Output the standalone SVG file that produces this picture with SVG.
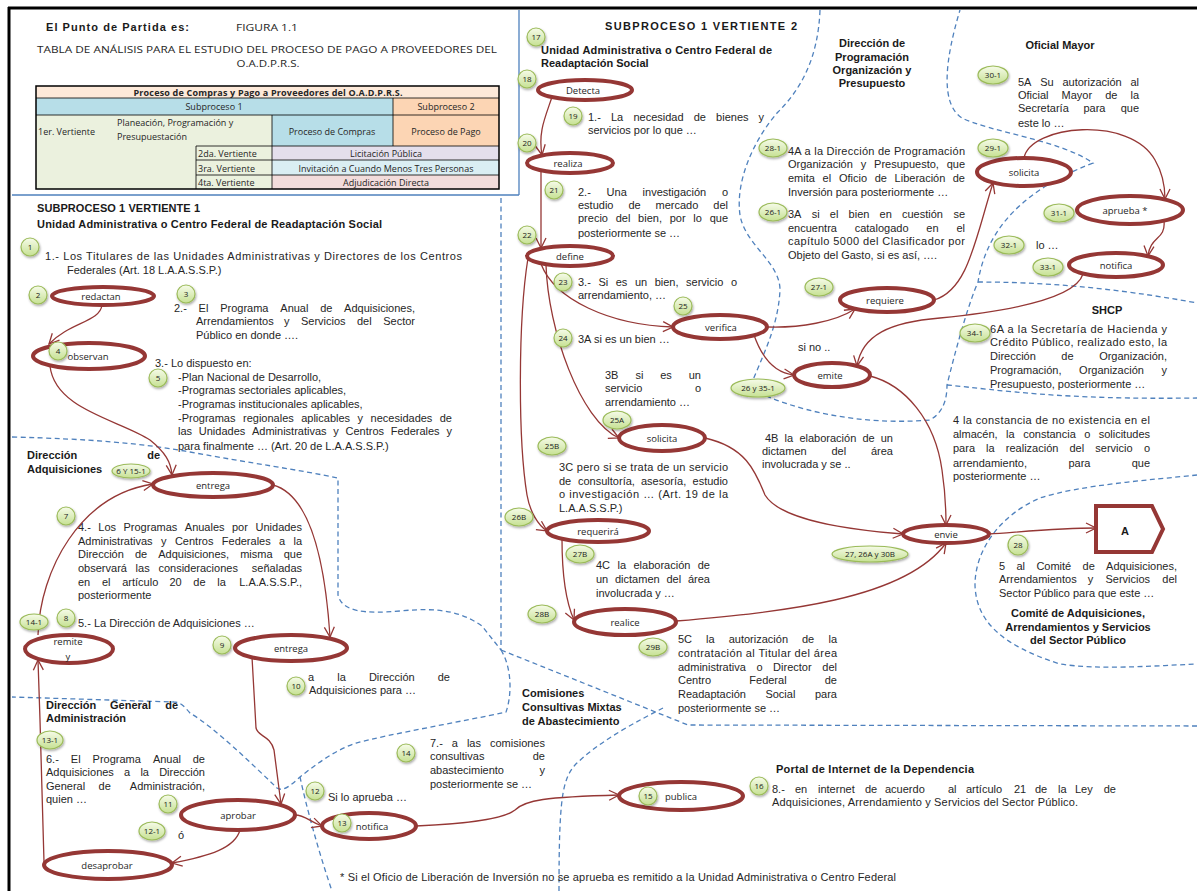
<svg xmlns="http://www.w3.org/2000/svg" width="1197" height="891" viewBox="0 0 1197 891">
<defs>
<style>
.t{font-family:"Liberation Sans",Arial,sans-serif;font-size:11px;fill:#262626}
.h{font-family:"Liberation Sans",Arial,sans-serif;font-size:11px;font-weight:bold;fill:#1a1a1a}
.c{font-family:"Open Sans",sans-serif;font-size:9.5px;fill:#262626;text-anchor:middle}
.tb{font-family:"Open Sans",sans-serif;font-size:9px;fill:#262626}
.bd{font-family:"Open Sans",sans-serif;font-size:8px;fill:#1a1a1a;text-anchor:middle}
.node{fill:#fff;stroke:#953735;stroke-width:4}
.badge{fill:url(#bg);stroke:#9bbb59;stroke-width:1.2;filter:url(#sh)}
.edge{fill:none;stroke:#953735;stroke-width:1.3;marker-end:url(#arr)}
.dash{fill:none;stroke:#4f81bd;stroke-width:1.3;stroke-dasharray:5 3.5}
.grid{stroke:#000;stroke-width:.8;fill:none}
.e{text-anchor:end}
.m{text-anchor:middle}
</style>
<linearGradient id="bg" x1="0" y1="0" x2="0" y2="1">
<stop offset="0" stop-color="#f6fbe9"/>
<stop offset="1" stop-color="#c6e193"/>
</linearGradient>
<filter id="sh" x="-30%" y="-30%" width="160%" height="170%">
<feDropShadow dx="0.8" dy="1.5" stdDeviation="0.9" flood-color="#000" flood-opacity="0.35"/>
</filter>
<marker id="arr" viewBox="0 0 12 12" refX="11" refY="6" markerWidth="12" markerHeight="12" markerUnits="userSpaceOnUse" orient="auto">
<path d="M1,1 L11,6 L1,11" fill="none" stroke="#953735" stroke-width="1.3"/>
</marker>
</defs>

<rect x="0" y="0" width="1197" height="891" fill="#fff"/>

<!-- outer frame -->
<g id="frame">
<path d="M8,8 H1197" stroke="#000" stroke-width="3" fill="none"/>
<path d="M9,7 V891" stroke="#000" stroke-width="3" fill="none"/>
<path d="M12,195 H519 M519,10 V195" stroke="#4f81bd" stroke-width="1.3" fill="none"/>
</g>

<!-- area boundaries -->
<g id="boundaries">
<path class="dash" d="M12,437 C90,439 140,443 190,452 C250,463 300,470 338,478 L338,595 C342,612 365,614 400,611 C440,607 462,612 482,626 L501,650"/>
<path class="dash" d="M501,198 L501,650"/>
<path class="dash" d="M501,650 L688,725 L1197,726"/>
<path class="dash" d="M501,650 C512,668 512,695 506,712 C460,722 390,734 356,743 C335,750 315,765 300,777 C290,786 283,792 277,788 C250,762 215,728 190,713 C184,706 180,702 174,702 L12,697"/>
<path class="dash" d="M300,777 C306,805 318,850 332,891"/>
<path class="dash" d="M663,708 C640,720 600,740 575,765 C562,780 559,800 559,891"/>
<path class="dash" d="M820,10 C818,60 800,90 778,112 C755,138 735,180 740,215 C745,245 780,262 780,290 C778,330 760,360 750,388 C790,410 860,426 930,420 C944,412 947,398 947,385 C958,340 970,300 978,282 C985,240 1010,195 1093,163 C1060,140 990,132 962,118 C940,104 945,60 960,10"/>
<path class="dash" d="M947,385 C1000,390 1060,400 1197,398"/>
<path class="dash" d="M978,282 C1040,282 1110,287 1197,303"/>
<path class="dash" d="M1197,475 C1150,480 1080,485 1040,498 C1000,515 975,550 975,585 C976,620 1000,645 1060,664 C1100,670 1150,666 1197,664"/>
</g>

<!-- heading and analysis table -->
<g id="heading">
<text class="h" x="46" y="31" font-size="12.5" textLength="143">El Punto de Partida es:</text>
<text class="tb" x="236" y="31" font-size="11.5" textLength="62" lengthAdjust="spacingAndGlyphs">FIGURA 1.1</text>
<text class="tb" x="37" y="53" font-size="11.5" textLength="460" lengthAdjust="spacingAndGlyphs">TABLA DE ANÁLISIS PARA EL ESTUDIO DEL PROCESO DE PAGO A PROVEEDORES DEL</text>
<text class="tb m" x="268" y="67" font-size="11.5" textLength="63" lengthAdjust="spacingAndGlyphs">O.A.D.P.R.S.</text>
</g>

<g id="table">
<rect x="36" y="86" width="463" height="12" fill="#fde9d9"/>
<rect x="36" y="98" width="357" height="17" fill="#b7dee8"/>
<rect x="393" y="98" width="106" height="17" fill="#fcd5b4"/>
<rect x="36" y="115" width="236" height="74" fill="#ebf1de"/>
<rect x="272" y="115" width="121" height="31" fill="#b7dee8"/>
<rect x="393" y="115" width="106" height="31" fill="#fcd5b4"/>
<rect x="272" y="146" width="227" height="14" fill="#e4dfec"/>
<rect x="272" y="160" width="227" height="15" fill="#daeef3"/>
<rect x="272" y="175" width="227" height="14" fill="#f2dcdb"/>
<path class="grid" d="M36,98 H499 M36,115 H499 M196,146 H499 M196,160 H499 M196,175 H499 M393,98 V146 M272,115 V189 M196,146 V189"/>
<rect x="36" y="86" width="463" height="103" fill="none" stroke="#000" stroke-width="1.5"/>
<text class="tb m" x="268" y="95.5" font-weight="bold" textLength="269">Proceso de Compras y Pago a Proveedores del O.A.D.P.R.S.</text>
<text class="tb m" x="214" y="110">Subproceso 1</text>
<text class="tb m" x="446" y="110">Subproceso 2</text>
<text class="tb" x="38" y="134.5">1er. Vertiente</text>
<text class="tb" x="117" y="125.5">Planeación, Programación y</text>
<text class="tb" x="117" y="140">Presupuestación</text>
<text class="tb m" x="332" y="134.5">Proceso de Compras</text>
<text class="tb m" x="446" y="134.5">Proceso de Pago</text>
<text class="tb" x="198" y="157">2da. Vertiente</text>
<text class="tb m" x="386" y="157">Licitación Pública</text>
<text class="tb" x="198" y="171.5">3ra. Vertiente</text>
<text class="tb m" x="386" y="171.5">Invitación a Cuando Menos Tres Personas</text>
<text class="tb" x="198" y="186">4ta. Vertiente</text>
<text class="tb m" x="386" y="186">Adjudicación Directa</text>
</g>

<!-- area titles -->
<g id="titles">
<text class="h" x="37" y="212" textLength="163">SUBPROCESO 1 VERTIENTE 1</text>
<text class="h" x="37" y="228" textLength="345">Unidad Administrativa o Centro Federal de Readaptación Social</text>
<text class="h" y="459"><tspan x="27">Dirección</tspan><tspan class="e" x="160">de</tspan></text>
<text class="h" x="27" y="473">Adquisiciones</text>
<text class="h" y="709"><tspan x="46">Dirección</tspan><tspan x="110">General</tspan><tspan class="e" x="178">de</tspan></text>
<text class="h" x="46" y="722">Administración</text>
<text class="h" x="522" y="697">Comisiones</text>
<text class="h" x="522" y="711">Consultivas Mixtas</text>
<text class="h" x="522" y="725">de Abastecimiento</text>
<text class="h" x="776" y="773" textLength="198">Portal de Internet de la Dependencia</text>
<text class="h" x="605" y="30" font-size="13" textLength="192">SUBPROCESO 1 VERTIENTE 2</text>
<text class="h" x="541" y="54" textLength="231">Unidad Administrativa o Centro Federal de</text>
<text class="h" x="541" y="67">Readaptación Social</text>
<text class="h m" x="872" y="47" font-size="11.5">Dirección de</text>
<text class="h m" x="872" y="61" font-size="11.5">Programación</text>
<text class="h m" x="872" y="74" font-size="11.5">Organización y</text>
<text class="h m" x="872" y="87" font-size="11.5">Presupuesto</text>
<text class="h m" x="1060" y="49">Oficial Mayor</text>
<text class="h m" x="1107" y="314">SHCP</text>
<text class="h m" x="1078" y="617">Comité de Adquisiciones,</text>
<text class="h m" x="1078" y="631">Arrendamientos y Servicios</text>
<text class="h m" x="1078" y="644">del Sector Público</text>
</g>

<!-- step descriptions -->
<g id="notes">
<text class="t" x="45" y="260" textLength="417">1.- Los Titulares de las Unidades Administrativas y Directores de los Centros</text>
<text class="t" x="67" y="274">Federales (Art. 18 L.A.A.S.S.P.)</text>

<text class="t" y="312"><tspan x="174">2.-</tspan><tspan x="198.6">El</tspan><tspan x="220.2">Programa</tspan><tspan x="280.3">Anual</tspan><tspan x="320.2">de</tspan><tspan class="e" x="415">Adquisiciones,</tspan></text>
<text class="t" y="325"><tspan x="196">Arrendamientos</tspan><tspan x="284">y</tspan><tspan x="301">Servicios</tspan><tspan x="357">del</tspan><tspan class="e" x="415">Sector</tspan></text>
<text class="t" x="196" y="339">Público  en donde ….</text>

<text class="t" x="155" y="367">3.- Lo dispuesto en:</text>
<text class="t" x="178" y="381">-Plan Nacional de Desarrollo,</text>
<text class="t" x="178" y="394">-Programas sectoriales aplicables,</text>
<text class="t" x="178" y="408">-Programas institucionales aplicables,</text>
<text class="t" y="422"><tspan x="178">-Programas</tspan><tspan x="243">regionales</tspan><tspan x="301.2">aplicables</tspan><tspan x="357.6">y</tspan><tspan x="370.6">necesidades</tspan><tspan class="e" x="452">de</tspan></text>
<text class="t" y="435"><tspan x="178">las</tspan><tspan x="198.8">Unidades</tspan><tspan x="252">Administrativas</tspan><tspan x="333.3">y</tspan><tspan x="345.5">Centros</tspan><tspan x="390.7">Federales</tspan><tspan class="e" x="452">y</tspan></text>
<text class="t" x="178" y="450">para finalmente … (Art. 20 de L.A.A.S.S.P.)</text>

<text class="t" y="531"><tspan x="78">4.-</tspan><tspan x="98.3">Los</tspan><tspan x="123.5">Programas</tspan><tspan x="184.8">Anuales</tspan><tspan x="232">por</tspan><tspan class="e" x="302">Unidades</tspan></text>
<text class="t" y="545"><tspan x="78">Administrativas</tspan><tspan x="161">y</tspan><tspan x="174.9">Centros</tspan><tspan x="221.8">Federales</tspan><tspan x="279.1">a</tspan><tspan class="e" x="302">la</tspan></text>
<text class="t" y="558"><tspan x="78">Dirección</tspan><tspan x="134.9">de</tspan><tspan x="158.2">Adquisiciones,</tspan><tspan x="240.2">misma</tspan><tspan class="e" x="302">que</tspan></text>
<text class="t" y="572"><tspan x="78">observará</tspan><tspan x="135.6">las</tspan><tspan x="158.4">consideraciones</tspan><tspan class="e" x="302">señaladas</tspan></text>
<text class="t" y="586"><tspan x="78">en</tspan><tspan x="101.9">el</tspan><tspan x="122.2">artículo</tspan><tspan x="169.4">20</tspan><tspan x="193.3">de</tspan><tspan x="217.2">la</tspan><tspan class="e" x="302">L.A.A.S.S.P.,</tspan></text>
<text class="t" x="78" y="599">posteriormente</text>
<text class="t" x="78" y="627">5.- La Dirección de Adquisiciones …</text>

<text class="t" y="681"><tspan x="308">a</tspan><tspan x="337.2">la</tspan><tspan x="368.9">Dirección</tspan><tspan class="e" x="450">de</tspan></text>
<text class="t" x="309" y="694">Adquisiciones para …</text>

<text class="t" y="763"><tspan x="46">6.-</tspan><tspan x="70.8">El</tspan><tspan x="92.6">Programa</tspan><tspan x="152.9">Anual</tspan><tspan class="e" x="205">de</tspan></text>
<text class="t" y="776"><tspan x="46">Adquisiciones</tspan><tspan x="124.1">a</tspan><tspan x="140.4">la</tspan><tspan class="e" x="205">Dirección</tspan></text>
<text class="t" y="790"><tspan x="46">General</tspan><tspan x="98.6">de</tspan><tspan class="e" x="205">Administración,</tspan></text>
<text class="t" x="46" y="803">quien …</text>

<text class="t" x="178" y="839" font-size="12">ó</text>
<text class="t" x="328" y="801">Si lo aprueba …</text>

<text class="t" y="747"><tspan x="430">7.-</tspan><tspan x="451.8">a</tspan><tspan x="466.9">las</tspan><tspan class="e" x="545">comisiones</tspan></text>
<text class="t" y="760"><tspan x="430">consultivas</tspan><tspan class="e" x="545">de</tspan></text>
<text class="t" y="774"><tspan x="430">abastecimiento</tspan><tspan class="e" x="545">y</tspan></text>
<text class="t" x="430" y="788">posteriormente se …</text>

<text class="t" y="793"><tspan x="772">8.-</tspan><tspan x="795">en</tspan><tspan x="818">internet</tspan><tspan x="865">de</tspan><tspan x="885">acuerdo</tspan><tspan x="948">al</tspan><tspan x="966">artículo</tspan><tspan x="1014">21</tspan><tspan x="1035">de</tspan><tspan x="1058">la</tspan><tspan x="1075">Ley</tspan><tspan class="e" x="1116">de</tspan></text>
<text class="t" x="772" y="806" textLength="306">Adquisiciones, Arrendamiento y Servicios del Sector Público.</text>

<text class="t" x="340" y="881" textLength="556">* Si el Oficio de Liberación de Inversión no se aprueba es remitido a la Unidad Administrativa o Centro Federal</text>

<text class="t" y="121"><tspan x="588">1.-</tspan><tspan x="611">La</tspan><tspan x="633.4">necesidad</tspan><tspan x="693.7">de</tspan><tspan x="716.1">bienes</tspan><tspan class="e" x="764">y</tspan></text>
<text class="t" x="588" y="134">servicios por lo que …</text>

<text class="t" y="196"><tspan x="578">2.-</tspan><tspan x="606.6">Una</tspan><tspan x="642.6">investigación</tspan><tspan class="e" x="728">o</tspan></text>
<text class="t" y="209"><tspan x="578">estudio</tspan><tspan x="628.4">de</tspan><tspan x="655.5">mercado</tspan><tspan class="e" x="728">del</tspan></text>
<text class="t" y="222"><tspan x="578">precio</tspan><tspan x="615.7">del</tspan><tspan x="638.1">bien,</tspan><tspan x="669.7">por</tspan><tspan x="693.3">lo</tspan><tspan class="e" x="728">que</tspan></text>
<text class="t" x="578" y="237">posteriormente se …</text>

<text class="t" y="286"><tspan x="578">3.-</tspan><tspan x="598.4">Si</tspan><tspan x="615.7">es</tspan><tspan x="634.9">un</tspan><tspan x="654.7">bien,</tspan><tspan x="686.1">servicio</tspan><tspan class="e" x="737">o</tspan></text>
<text class="t" x="578" y="299">arrendamiento, …</text>
<text class="t" x="578" y="343">3A si es un bien …</text>

<text class="t" y="379"><tspan x="605">3B</tspan><tspan x="635.4">si</tspan><tspan x="660.2">es</tspan><tspan class="e" x="701">un</tspan></text>
<text class="t" y="392"><tspan x="605">servicio</tspan><tspan class="e" x="701">o</tspan></text>
<text class="t" x="605" y="406">arrendamiento …</text>

<text class="t" x="559" y="471" textLength="169">3C pero si se trata de un servicio</text>
<text class="t" y="485"><tspan x="559">de</tspan><tspan x="578">consultoría,</tspan><tspan x="641">asesoría,</tspan><tspan class="e" x="728">estudio</tspan></text>
<text class="t" x="559" y="498" textLength="169">o investigación … (Art. 19 de la</text>
<text class="t" x="559" y="512">L.A.A.S.S.P.)</text>

<text class="t" y="569"><tspan x="596">4C</tspan><tspan x="617.5">la</tspan><tspan x="633.5">elaboración</tspan><tspan class="e" x="710">de</tspan></text>
<text class="t" y="583"><tspan x="596">un</tspan><tspan x="615">dictamen</tspan><tspan x="666.4">del</tspan><tspan class="e" x="710">área</tspan></text>
<text class="t" x="596" y="597">involucrada y …</text>

<text class="t" y="643"><tspan x="678">5C</tspan><tspan x="706.1">la</tspan><tspan x="728.7">autorización</tspan><tspan x="802">de</tspan><tspan class="e" x="837">la</tspan></text>
<text class="t" x="678" y="657" textLength="159">contratación al Titular del área</text>
<text class="t" y="671"><tspan x="678">administrativa</tspan><tspan x="756.4">o</tspan><tspan x="773.1">Director</tspan><tspan class="e" x="837">del</tspan></text>
<text class="t" y="684"><tspan x="678">Centro</tspan><tspan x="749.3">Federal</tspan><tspan class="e" x="837">de</tspan></text>
<text class="t" y="698"><tspan x="678">Readaptación</tspan><tspan x="765.4">Social</tspan><tspan class="e" x="837">para</tspan></text>
<text class="t" x="678" y="712">posteriormente se …</text>

<text class="t" y="442"><tspan x="765">4B</tspan><tspan x="784.6">la</tspan><tspan x="799.4">elaboración</tspan><tspan x="862.4">de</tspan><tspan class="e" x="893">un</tspan></text>
<text class="t" y="455"><tspan x="762">dictamen</tspan><tspan x="831.5">del</tspan><tspan class="e" x="893">área</tspan></text>
<text class="t" x="762" y="468">involucrada y se ..</text>

<text class="t" x="798" y="351">si  no ..</text>

<text class="t" x="788" y="155" textLength="177">4A a la Dirección de Programación</text>
<text class="t" y="168"><tspan x="788">Organización</tspan><tspan x="860.7">y</tspan><tspan x="874.1">Presupuesto,</tspan><tspan class="e" x="965">que</tspan></text>
<text class="t" y="182"><tspan x="788">emita</tspan><tspan x="822.6">el</tspan><tspan x="838.9">Oficio</tspan><tspan x="874.7">de</tspan><tspan x="894.6">Liberación</tspan><tspan class="e" x="965">de</tspan></text>
<text class="t" x="788" y="196">Inversión para posteriormente …</text>

<text class="t" y="218"><tspan x="788">3A</tspan><tspan x="811.7">si</tspan><tspan x="829.8">el</tspan><tspan x="848.6">bien</tspan><tspan x="879.6">en</tspan><tspan x="902">cuestión</tspan><tspan class="e" x="965">se</tspan></text>
<text class="t" y="232"><tspan x="788">encuentra</tspan><tspan x="854.7">catalogado</tspan><tspan x="926.3">en</tspan><tspan class="e" x="965">el</tspan></text>
<text class="t" x="788" y="245" textLength="177">capítulo 5000 del Clasificador por</text>
<text class="t" x="788" y="259">Objeto del Gasto, si es así, ….</text>

<text class="t" y="86"><tspan x="1018">5A</tspan><tspan x="1040.2">Su</tspan><tspan x="1062.4">autorización</tspan><tspan class="e" x="1139">al</tspan></text>
<text class="t" y="99"><tspan x="1018">Oficial</tspan><tspan x="1061.6">Mayor</tspan><tspan x="1105.2">de</tspan><tspan class="e" x="1139">la</tspan></text>
<text class="t" y="112"><tspan x="1018">Secretaría</tspan><tspan x="1083.4">para</tspan><tspan class="e" x="1139">que</tspan></text>
<text class="t" x="1018" y="127">este lo …</text>
<text class="t" x="1036" y="249">lo …</text>

<text class="t" x="990" y="333" textLength="177">6A a la Secretaría de Hacienda y</text>
<text class="t" x="990" y="346" textLength="177">Crédito Público, realizado esto, la</text>
<text class="t" y="360"><tspan x="990">Dirección</tspan><tspan x="1061.3">de</tspan><tspan class="e" x="1167">Organización,</tspan></text>
<text class="t" y="374"><tspan x="990">Programación,</tspan><tspan x="1079.1">Organización</tspan><tspan class="e" x="1167">y</tspan></text>
<text class="t" x="990" y="388">Presupuesto, posteriormente …</text>

<text class="t" x="953" y="424" textLength="197">4 la constancia de no existencia en el</text>
<text class="t" y="438"><tspan x="953">almacén,</tspan><tspan x="1006.1">la</tspan><tspan x="1023.2">constancia</tspan><tspan x="1084.2">o</tspan><tspan class="e" x="1150">solicitudes</tspan></text>
<text class="t" y="452"><tspan x="953">para</tspan><tspan x="986.1">la</tspan><tspan x="1005.8">realización</tspan><tspan x="1069.5">del</tspan><tspan x="1095.3">servicio</tspan><tspan class="e" x="1150">o</tspan></text>
<text class="t" y="467"><tspan x="953">arrendamiento,</tspan><tspan x="1068.4">para</tspan><tspan class="e" x="1150">que</tspan></text>
<text class="t" x="953" y="480">posteriormente …</text>

<text class="t" y="570"><tspan x="999">5</tspan><tspan x="1016.5">al</tspan><tspan x="1036.4">Comité</tspan><tspan x="1082.6">de</tspan><tspan class="e" x="1177">Adquisiciones,</tspan></text>
<text class="t" y="583"><tspan x="999">Arrendamientos</tspan><tspan x="1087.8">y</tspan><tspan x="1105.5">Servicios</tspan><tspan class="e" x="1177">del</tspan></text>
<text class="t" x="999" y="597">Sector Público para que este …</text>
</g>

<!-- process steps -->
<g id="n-redactan"><ellipse class="node" cx="103" cy="296" rx="51" ry="9"/><text class="c" x="101" y="300">redactan</text></g>
<g id="n-observan"><ellipse class="node" cx="89" cy="356" rx="56" ry="13"/><text class="c" x="88" y="360">observan</text></g>
<g id="n-entrega-1"><ellipse class="node" cx="213" cy="485" rx="60" ry="12"/><text class="c" x="213" y="489">entrega</text></g>
<g id="n-remite"><ellipse class="node" cx="69" cy="649" rx="44" ry="14"/><text class="c" x="68" y="645">remite</text><text class="c" x="68" y="660">y</text></g>
<g id="n-entrega-2"><ellipse class="node" cx="291" cy="648" rx="56" ry="13"/><text class="c" x="291" y="652">entrega</text></g>
<g id="n-aprobar"><ellipse class="node" cx="238" cy="815" rx="57" ry="15"/><text class="c" x="238" y="819">aprobar</text></g>
<g id="n-desaprobar"><ellipse class="node" cx="108" cy="865" rx="64" ry="14"/><text class="c" x="107" y="869">desaprobar</text></g>
<g id="n-notifica-1"><ellipse class="node" cx="369" cy="826" rx="47" ry="13"/><text class="c" x="372" y="830">notifica</text></g>
<g id="n-publica"><ellipse class="node" cx="681" cy="796" rx="62" ry="14"/><text class="c" x="681" y="800">publica</text></g>
<g id="n-detecta"><ellipse class="node" cx="585" cy="90" rx="47" ry="10"/><text class="c" x="583" y="94">Detecta</text></g>
<g id="n-realiza"><ellipse class="node" cx="570" cy="163" rx="43" ry="10"/><text class="c" x="568" y="167">realiza</text></g>
<g id="n-define"><ellipse class="node" cx="570" cy="256" rx="43" ry="10"/><text class="c" x="570" y="260">define</text></g>
<g id="n-verifica"><ellipse class="node" cx="720" cy="327" rx="47" ry="12"/><text class="c" x="721" y="331">verifica</text></g>
<g id="n-solicita-1"><ellipse class="node" cx="662" cy="438" rx="43" ry="13"/><text class="c" x="662" y="442">solicita</text></g>
<g id="n-requerira"><ellipse class="node" cx="598" cy="531" rx="51" ry="11"/><text class="c" x="598" y="535">requerirá</text></g>
<g id="n-realice"><ellipse class="node" cx="625" cy="622" rx="51" ry="13"/><text class="c" x="625" y="626">realice</text></g>
<g id="n-requiere"><ellipse class="node" cx="887" cy="300" rx="47" ry="12"/><text class="c" x="885" y="304">requiere</text></g>
<g id="n-emite"><ellipse class="node" cx="832" cy="375" rx="38" ry="12"/><text class="c" x="830" y="379">emite</text></g>
<g id="n-solicita-2"><ellipse class="node" cx="1024" cy="172" rx="47" ry="14"/><text class="c" x="1024" y="176">solicita</text></g>
<g id="n-aprueba"><ellipse class="node" cx="1130" cy="210" rx="53" ry="14"/><text class="c" x="1125" y="214">aprueba *</text></g>
<g id="n-notifica-2"><ellipse class="node" cx="1116" cy="265" rx="47" ry="12"/><text class="c" x="1116" y="269">notifica</text></g>
<g id="n-envie"><ellipse class="node" cx="946" cy="534" rx="43" ry="9"/><text class="c" x="946" y="538">envie</text></g>
<g id="n-a"><path d="M1096,506 H1152 L1163,529 L1152,552 H1096 Z" fill="#fff" stroke="#953735" stroke-width="4" stroke-linejoin="miter"/><text class="h m" x="1125" y="535" font-size="16">A</text></g>

<!-- connectors -->
<g id="connectors">
<path class="edge" d="M102,305 C100,322 70,322 49,344"/>
<path class="edge" d="M50,366 C55,410 120,420 150,440 C165,452 171,462 172,475"/>
<path class="edge" d="M38,635 C40,570 80,495 153,484"/>
<path class="edge" d="M273,485 C310,495 325,560 330,637"/>
<path class="edge" d="M252,657 L256,728 C258,737 270,735 274,750 L281,804"/>
<path class="edge" d="M240,830 C235,848 210,856 172,863"/>
<path class="edge" d="M44,862 L40,720 L38,660"/>
<path class="edge" d="M295,815 C305,815 310,822 322,826"/>
<path class="edge" d="M416,826 C470,824 505,818 515,810 C525,800 545,797 619,795"/>
<path class="edge" d="M552,97 C545,118 538,132 542,155"/>
<path class="edge" d="M541,170 L541,248"/>
<path class="edge" d="M541,264 C555,300 610,325 673,327"/>
<path class="edge" d="M546,265 C548,330 580,420 619,438"/>
<path class="edge" d="M528,258 C518,320 518,440 527,495 C530,512 538,525 547,531"/>
<path class="edge" d="M562,539 C562,570 565,600 574,620"/>
<path class="edge" d="M767,327 C800,328 835,322 855,309"/>
<path class="edge" d="M754,335 C762,358 775,373 794,375"/>
<path class="edge" d="M934,300 C968,290 975,240 993,183"/>
<path class="edge" d="M1024,158 C1030,125 1130,115 1155,160 C1162,172 1165,185 1165,199"/>
<path class="edge" d="M1164,221 C1166,240 1150,236 1148,256"/>
<path class="edge" d="M1083,274 C1075,300 1000,312 940,318 C890,322 862,335 857,366"/>
<path class="edge" d="M870,376 C905,385 935,420 942,470 C945,490 946,505 946,525"/>
<path class="edge" d="M705,438 C745,447 755,470 765,495 C780,520 850,530 903,534"/>
<path class="edge" d="M676,621 C780,612 905,600 946,543"/>
<path class="edge" d="M989,534 C1020,532 1060,528 1096,528"/>
</g>

<!-- step numbers -->
<g id="step-numbers">
<g><ellipse class="badge" cx="30" cy="247" rx="9" ry="9"/><text class="bd" x="30" y="250">1</text></g>
<g><ellipse class="badge" cx="38" cy="295" rx="9" ry="9"/><text class="bd" x="38" y="298">2</text></g>
<g><ellipse class="badge" cx="186" cy="294" rx="9" ry="9"/><text class="bd" x="186" y="297">3</text></g>
<g><ellipse class="badge" cx="58" cy="351" rx="9" ry="9"/><text class="bd" x="58" y="354">4</text></g>
<g><ellipse class="badge" cx="158" cy="378" rx="9" ry="9"/><text class="bd" x="158" y="381">5</text></g>
<g><ellipse class="badge" cx="131" cy="471" rx="19" ry="7"/><text class="bd" x="131" y="474" font-size="7.5">6 Y 15-1</text></g>
<g><ellipse class="badge" cx="66" cy="516" rx="9" ry="9"/><text class="bd" x="66" y="519">7</text></g>
<g><ellipse class="badge" cx="66" cy="618" rx="9" ry="9"/><text class="bd" x="66" y="621">8</text></g>
<g><ellipse class="badge" cx="34" cy="622" rx="14" ry="8"/><text class="bd" x="34" y="625">14-1</text></g>
<g><ellipse class="badge" cx="222" cy="645" rx="9" ry="9"/><text class="bd" x="222" y="648">9</text></g>
<g><ellipse class="badge" cx="296" cy="686" rx="9" ry="9"/><text class="bd" x="296" y="689">10</text></g>
<g><ellipse class="badge" cx="50" cy="740" rx="13" ry="9"/><text class="bd" x="50" y="743">13-1</text></g>
<g><ellipse class="badge" cx="168" cy="804" rx="9" ry="9"/><text class="bd" x="168" y="807">11</text></g>
<g><ellipse class="badge" cx="152" cy="831" rx="13" ry="9"/><text class="bd" x="152" y="834">12-1</text></g>
<g><ellipse class="badge" cx="315" cy="791" rx="9" ry="9"/><text class="bd" x="315" y="794">12</text></g>
<g><ellipse class="badge" cx="342" cy="823" rx="9" ry="9"/><text class="bd" x="342" y="826">13</text></g>
<g><ellipse class="badge" cx="406" cy="753" rx="9" ry="9"/><text class="bd" x="406" y="756">14</text></g>
<g><ellipse class="badge" cx="648" cy="796" rx="9" ry="9"/><text class="bd" x="648" y="799">15</text></g>
<g><ellipse class="badge" cx="759" cy="786" rx="9" ry="9"/><text class="bd" x="759" y="789">16</text></g>
<g><ellipse class="badge" cx="536" cy="37" rx="9" ry="9"/><text class="bd" x="536" y="40">17</text></g>
<g><ellipse class="badge" cx="527" cy="79" rx="9" ry="9"/><text class="bd" x="527" y="82">18</text></g>
<g><ellipse class="badge" cx="573" cy="116" rx="9" ry="9"/><text class="bd" x="573" y="119">19</text></g>
<g><ellipse class="badge" cx="527" cy="143" rx="9" ry="9"/><text class="bd" x="527" y="146">20</text></g>
<g><ellipse class="badge" cx="554" cy="190" rx="9" ry="9"/><text class="bd" x="554" y="193">21</text></g>
<g><ellipse class="badge" cx="527" cy="235" rx="9" ry="9"/><text class="bd" x="527" y="238">22</text></g>
<g><ellipse class="badge" cx="563" cy="282" rx="9" ry="9"/><text class="bd" x="563" y="285">23</text></g>
<g><ellipse class="badge" cx="563" cy="338" rx="9" ry="9"/><text class="bd" x="563" y="341">24</text></g>
<g><ellipse class="badge" cx="683" cy="306" rx="9" ry="9"/><text class="bd" x="683" y="309">25</text></g>
<g><ellipse class="badge" cx="617" cy="420" rx="14" ry="9"/><text class="bd" x="617" y="423">25A</text></g>
<g><ellipse class="badge" cx="552" cy="446" rx="14" ry="9"/><text class="bd" x="552" y="449">25B</text></g>
<g><ellipse class="badge" cx="519" cy="517" rx="14" ry="9"/><text class="bd" x="519" y="520">26B</text></g>
<g><ellipse class="badge" cx="580" cy="554" rx="14" ry="9"/><text class="bd" x="580" y="557">27B</text></g>
<g><ellipse class="badge" cx="542" cy="614" rx="14" ry="9"/><text class="bd" x="542" y="617">28B</text></g>
<g><ellipse class="badge" cx="653" cy="647" rx="14" ry="9"/><text class="bd" x="653" y="650">29B</text></g>
<g><ellipse class="badge" cx="773" cy="148" rx="14" ry="9"/><text class="bd" x="773" y="151">28-1</text></g>
<g><ellipse class="badge" cx="773" cy="212" rx="14" ry="9"/><text class="bd" x="773" y="215">26-1</text></g>
<g><ellipse class="badge" cx="819" cy="287" rx="14" ry="9"/><text class="bd" x="819" y="290">27-1</text></g>
<g><ellipse class="badge" cx="758" cy="388" rx="27" ry="9"/><text class="bd" x="758" y="391">26 y 35-1</text></g>
<g><ellipse class="badge" cx="993" cy="75" rx="15" ry="9"/><text class="bd" x="993" y="78">30-1</text></g>
<g><ellipse class="badge" cx="993" cy="148" rx="15" ry="9"/><text class="bd" x="993" y="151">29-1</text></g>
<g><ellipse class="badge" cx="1059" cy="213" rx="15" ry="9"/><text class="bd" x="1059" y="216">31-1</text></g>
<g><ellipse class="badge" cx="1009" cy="245" rx="15" ry="9"/><text class="bd" x="1009" y="248">32-1</text></g>
<g><ellipse class="badge" cx="1048" cy="267" rx="15" ry="9"/><text class="bd" x="1048" y="270">33-1</text></g>
<g><ellipse class="badge" cx="975" cy="333" rx="15" ry="9"/><text class="bd" x="975" y="336">34-1</text></g>
<g><ellipse class="badge" cx="870" cy="554" rx="38" ry="8"/><text class="bd" x="870" y="557">27, 26A y 30B</text></g>
<g><ellipse class="badge" cx="1018" cy="545" rx="10" ry="10"/><text class="bd" x="1018" y="548">28</text></g>
</g>
</svg>
